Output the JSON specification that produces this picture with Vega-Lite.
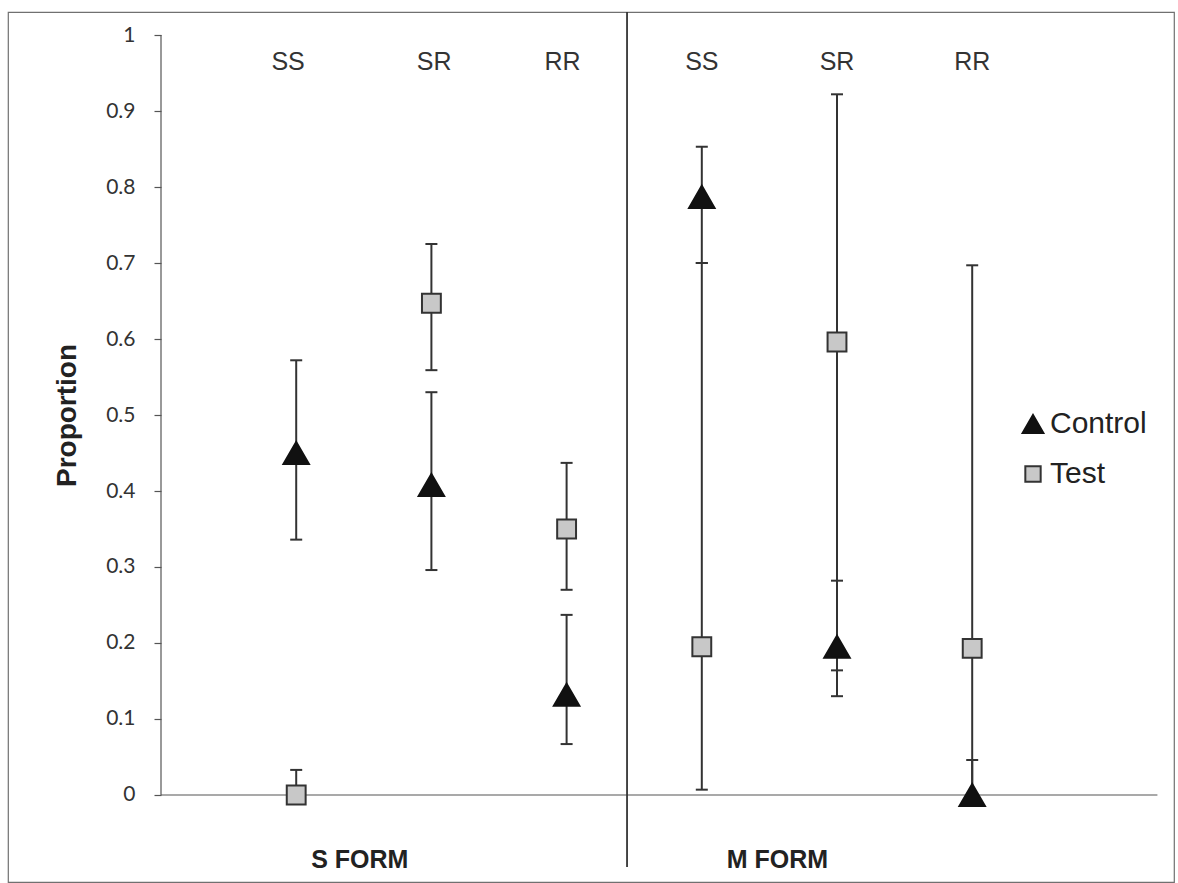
{
  "$schema": "https://vega.github.io/schema/vega-lite/v6.json",
  "width": 1166,
  "height": 870,
  "autosize": "none",
  "padding": {"left": 8, "top": 12, "right": 4, "bottom": 1},
  "background": "white",
  "config": {
    "view": {"stroke": "#707070", "strokeWidth": 1.2},
    "font": "Liberation Sans",
    "legend": {
      "title": null,
      "orient": "none",
      "legendX": 1010,
      "legendY": 397,
      "padding": 0,
      "symbolSize": 430,
      "symbolStrokeWidth": 2,
      "labelFont": "Liberation Sans",
      "labelFontSize": 30,
      "labelColor": "#222222",
      "labelOffset": 2,
      "rowPadding": 20
    }
  },
  "datasets": {
    "points": [
      {"form": "S FORM", "geno": "SS", "group": "Control", "pos": 1, "mean": 0.45, "lo": 0.336, "hi": 0.572},
      {"form": "S FORM", "geno": "SS", "group": "Test", "pos": 1, "mean": 0.0, "lo": 0.0, "hi": 0.033},
      {"form": "S FORM", "geno": "SR", "group": "Control", "pos": 2, "mean": 0.408, "lo": 0.296, "hi": 0.53},
      {"form": "S FORM", "geno": "SR", "group": "Test", "pos": 2, "mean": 0.647, "lo": 0.559, "hi": 0.725},
      {"form": "S FORM", "geno": "RR", "group": "Control", "pos": 3, "mean": 0.132, "lo": 0.067, "hi": 0.237},
      {"form": "S FORM", "geno": "RR", "group": "Test", "pos": 3, "mean": 0.35, "lo": 0.27, "hi": 0.437},
      {"form": "M FORM", "geno": "SS", "group": "Control", "pos": 4, "mean": 0.787, "lo": 0.7, "hi": 0.853},
      {"form": "M FORM", "geno": "SS", "group": "Test", "pos": 4, "mean": 0.195, "lo": 0.007, "hi": 0.7},
      {"form": "M FORM", "geno": "SR", "group": "Control", "pos": 5, "mean": 0.195, "lo": 0.13, "hi": 0.282},
      {"form": "M FORM", "geno": "SR", "group": "Test", "pos": 5, "mean": 0.596, "lo": 0.164, "hi": 0.922},
      {"form": "M FORM", "geno": "RR", "group": "Control", "pos": 6, "mean": 0.0, "lo": 0.0, "hi": 0.046},
      {"form": "M FORM", "geno": "RR", "group": "Test", "pos": 6, "mean": 0.193, "lo": 0.0, "hi": 0.697}
    ],
    "genoLabels": [
      {"label": "SS", "x": 0.94, "y": 0.9645},
      {"label": "SR", "x": 2.02, "y": 0.9645},
      {"label": "RR", "x": 2.97, "y": 0.9645},
      {"label": "SS", "x": 4.0, "y": 0.9645},
      {"label": "SR", "x": 5.0, "y": 0.9645},
      {"label": "RR", "x": 6.0, "y": 0.9645}
    ],
    "formLabels": [
      {"label": "S FORM", "x": 1.47, "y": -0.0855},
      {"label": "M FORM", "x": 4.56, "y": -0.0855}
    ],
    "divider": [{"x": 3.447, "y": 1.0303, "y2": -0.0947}],
    "axisLines": [
      {"name": "y", "x": 0, "x2": 0, "y": 0, "y2": 1},
      {"name": "x", "x": 0, "x2": 7.37, "y": 0, "y2": 0}
    ]
  },
  "layer": [
    {
      "data": {"name": "axisLines"},
      "mark": {"type": "rule", "color": "#555555", "strokeWidth": 1.2},
      "encoding": {
        "x": {"field": "x", "type": "quantitative", "scale": {"domain": [-1.1317, 7.4926], "nice": false, "zero": false}, "axis": null},
        "x2": {"field": "x2"},
        "y": {"field": "y", "type": "quantitative", "scale": {"domain": [-0.1145, 1.0303], "nice": false, "zero": false},
          "axis": {
            "values": [0, 0.1, 0.2, 0.3, 0.4, 0.5, 0.6, 0.7, 0.8, 0.9, 1],
            "format": "~g",
            "offset": -153,
            "domain": false,
            "grid": false,
            "ticks": true,
            "tickSize": 7,
            "tickColor": "#555555",
            "tickWidth": 1.2,
            "labelFont": "Lato",
            "labelFontSize": 21,
            "labelColor": "#333333",
            "labelPadding": 19,
            "labelFlush": false,
            "labelOverlap": false,
            "title": "Proportion",
            "titleFont": "Liberation Sans",
            "titleFontSize": 28,
            "titleFontWeight": "bold",
            "titleColor": "#222222",
            "titleX": -94,
            "titleY": 403,
            "titleAngle": 270,
            "titleAlign": "center",
            "titleBaseline": "middle"
          }
        },
        "y2": {"field": "y2"}
      }
    },
    {
      "data": {"name": "divider"},
      "mark": {"type": "rule", "color": "#333333", "strokeWidth": 1.8},
      "encoding": {
        "x": {"field": "x", "type": "quantitative"},
        "y": {"field": "y", "type": "quantitative"},
        "y2": {"field": "y2"}
      }
    },
    {
      "data": {"name": "points"},
      "mark": {"type": "rule", "color": "#333333", "strokeWidth": 2},
      "encoding": {
        "x": {"field": "pos", "type": "quantitative"},
        "y": {"field": "lo", "type": "quantitative"},
        "y2": {"field": "hi"}
      }
    },
    {
      "data": {"name": "points"},
      "mark": {"type": "point", "shape": "M-1,0L1,0", "size": 144, "filled": false, "stroke": "#333333", "strokeWidth": 2, "opacity": 1},
      "encoding": {
        "x": {"field": "pos", "type": "quantitative"},
        "y": {"field": "lo", "type": "quantitative"}
      }
    },
    {
      "data": {"name": "points"},
      "mark": {"type": "point", "shape": "M-1,0L1,0", "size": 144, "filled": false, "stroke": "#333333", "strokeWidth": 2, "opacity": 1},
      "encoding": {
        "x": {"field": "pos", "type": "quantitative"},
        "y": {"field": "hi", "type": "quantitative"}
      }
    },
    {
      "data": {"name": "points"},
      "mark": {"type": "point", "filled": true, "opacity": 1, "strokeWidth": 2, "size": 650},
      "encoding": {
        "x": {"field": "pos", "type": "quantitative"},
        "y": {"field": "mean", "type": "quantitative"},
        "shape": {"field": "group", "type": "nominal", "scale": {"domain": ["Control", "Test"], "range": ["triangle-up", "M-0.74,-0.74H0.74V0.74H-0.74Z"]}},
        "fill": {"field": "group", "type": "nominal", "scale": {"domain": ["Control", "Test"], "range": ["#111111", "#c8c8c8"]}},
        "stroke": {"field": "group", "type": "nominal", "scale": {"domain": ["Control", "Test"], "range": ["#111111", "#333333"]}}
      }
    },
    {
      "data": {"name": "genoLabels"},
      "mark": {"type": "text", "font": "Liberation Sans", "fontSize": 25, "color": "#333333", "align": "center", "baseline": "middle"},
      "encoding": {
        "x": {"field": "x", "type": "quantitative"},
        "y": {"field": "y", "type": "quantitative"},
        "text": {"field": "label"}
      }
    },
    {
      "data": {"name": "formLabels"},
      "mark": {"type": "text", "font": "Liberation Sans", "fontSize": 25, "fontWeight": "bold", "color": "#222222", "align": "center", "baseline": "middle"},
      "encoding": {
        "x": {"field": "x", "type": "quantitative"},
        "y": {"field": "y", "type": "quantitative"},
        "text": {"field": "label"}
      }
    }
  ]
}
